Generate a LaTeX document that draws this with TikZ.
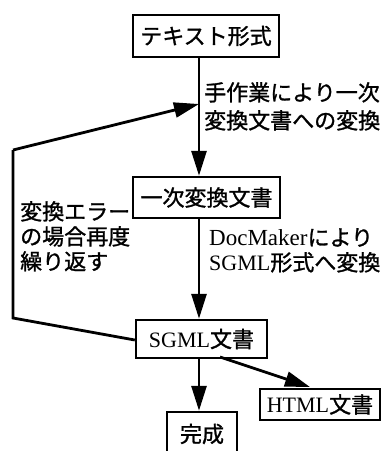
\documentclass[tikz,border=0pt]{standalone}
\usepackage{fontspec}
\setmainfont{Liberation Serif}
\newfontfamily\cjk[FakeBold=1.2]{Noto Sans CJK JP}
\usetikzlibrary{arrows.meta}
\tikzset{
  box/.style={draw, line width=2.4pt, inner sep=0pt, font=\fontsize{22}{26}\selectfont},
  conn/.style={line width=2.8pt, -{Triangle[length=25pt,width=15pt]}},
  plain/.style={line width=2.8pt},
  lbl/.style={font=\fontsize{22}{25}\selectfont, align=left, inner sep=0pt, anchor=north west}
}
\begin{document}
\begin{tikzpicture}[x=1pt,y=-1pt]
\useasboundingbox (0,0) rectangle (387,451);
\clip (0,0) rectangle (387,451);
\node[box, minimum width=146pt, minimum height=42pt] (t1) at (206,36) {\cjk テキスト形式};
\node[box, minimum width=147pt, minimum height=41pt] (t2) at (206.5,197.5) {\cjk 一次変換文書};
\node[box, minimum width=131pt, minimum height=38pt] (t3) at (201.5,339) {SGML{\cjk 文書}};
\node[box, minimum width=70pt, minimum height=44pt] (t4) at (202,434) {\cjk 完成};
\node[box, minimum width=120pt, minimum height=31pt] (t5) at (320,404.5) {HTML{\cjk 文書}};
\coordinate (c1) at (199,104);
\coordinate (lt) at (13,150);
\coordinate (lb) at (13,318);
\draw[conn] (t1.south -| c1) -- (t2.north -| c1);
\draw[conn] (t2.south -| c1) -- (t3.north -| c1);
\draw[conn] (t3.south -| c1) -- (t4.north -| c1);
\coordinate (hs) at (220,357);
\coordinate (he) at (310,387);
\draw[conn] (hs) -- (he);
\draw[plain] (t3.west |- 0,340) -- (lb) -- (lt);
\draw[conn] (lt) -- (c1);
\node[lbl] (l1) at (204,82) {\cjk 手作業により一次\\[3pt]\cjk 変換文書への変換};
\node[lbl] (l2) at (209,228) {\fontsize{23}{23}\selectfont DocMaker{\cjk\fontsize{22}{22}\selectfont により}\\SGML{\cjk 形式へ変換}};
\node[lbl] (l3) at (20,201) {\cjk 変換エラー\\\cjk の場合再度\\\cjk 繰り返す};
\end{tikzpicture}
\end{document}
